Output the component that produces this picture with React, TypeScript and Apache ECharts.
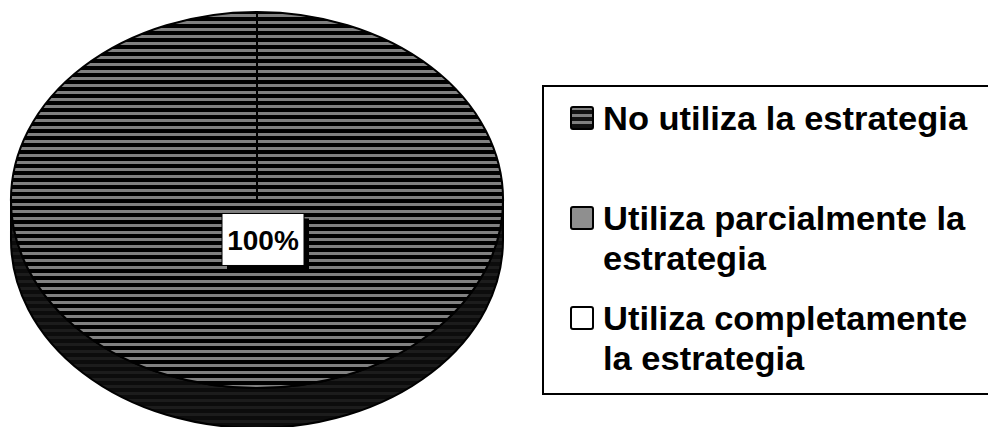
import { useEffect, useRef } from 'react';
import * as echarts from 'echarts';

const categories = [
  'No utiliza la estrategia',
  'Utiliza parcialmente la\nestrategia',
  'Utiliza completamente\nla estrategia',
];
const values = [100, 0, 0];

function stripeCanvas(on: number, off: number, c1: string, c2: string) {
  const c = document.createElement('canvas');
  c.width = 4;
  c.height = on + off;
  const ctx = c.getContext('2d')!;
  ctx.fillStyle = c2;
  ctx.fillRect(0, 0, c.width, c.height);
  ctx.fillStyle = c1;
  ctx.fillRect(0, 0, c.width, on);
  return c;
}

export default function App() {
  const ref = useRef<HTMLDivElement>(null);
  useEffect(() => {
    document.body.style.margin = '0';
    if (!ref.current) return;
    const chart = echarts.init(ref.current, undefined, { renderer: 'svg' });

    const topPattern = { image: stripeCanvas(3, 4, '#808080', '#000000'), repeat: 'repeat' };
    const sidePattern = { image: stripeCanvas(3, 4, '#1c1c1c', '#0c0c0c'), repeat: 'repeat' };
    const slicePatterns: any[] = [topPattern, '#8c8c8c', '#ffffff'];
    const sideFills: any[] = [sidePattern, '#444444', '#999999'];

    const cx = 257, cy = 200, rx = 246, ry = 188, depth = 40;
    const total = values.reduce((a, b) => a + b, 0);
    const cum: number[] = [];
    values.reduce((acc, v, i) => { cum[i] = acc; return acc + v; }, 0);
    const P = (t: number, dy = 0) => [cx + rx * Math.sin(t), cy - ry * Math.cos(t) + dy];
    const f = (p: number[]) => `${p[0].toFixed(2)} ${p[1].toFixed(2)}`;

    const font = "'Liberation Sans', Arial, sans-serif";

    const renderItem = (params: any, api: any) => {
      const i = params.dataIndex;
      const v = api.value(0) as number;
      if (!v || v <= 0) return null;
      const a0 = (cum[i] / total) * Math.PI * 2;
      const a1 = ((cum[i] + v) / total) * Math.PI * 2;
      const children: any[] = [];
      const s = Math.max(a0, Math.PI / 2);
      const e = Math.min(a1, Math.PI * 1.5);
      if (e > s) {
        const d = `M ${f(P(s))} L ${f(P(s, depth))} A ${rx} ${ry} 0 0 1 ${f(P(e, depth))} L ${f(P(e))} A ${rx} ${ry} 0 0 0 ${f(P(s))} Z`;
        children.push({
          type: 'path', z2: 1,
          shape: { pathData: d },
          style: { fill: sideFills[i], stroke: '#000', lineWidth: 2 },
        });
      }
      let d: string;
      if (a1 - a0 >= Math.PI * 2 - 1e-6) {
        d = `M ${f(P(a0))} A ${rx} ${ry} 0 1 1 ${f(P(a0 + Math.PI))} A ${rx} ${ry} 0 1 1 ${f(P(a0 + Math.PI * 2))} Z`;
      } else {
        const large = a1 - a0 > Math.PI ? 1 : 0;
        d = `M ${cx} ${cy} L ${f(P(a0))} A ${rx} ${ry} 0 ${large} 1 ${f(P(a1))} Z`;
      }
      children.push({
        type: 'path', z2: 2,
        shape: { pathData: d },
        style: { fill: slicePatterns[i], stroke: '#000', lineWidth: 2 },
      });
      const st = P(a0);
      children.push({
        type: 'line', z2: 3,
        shape: { x1: cx, y1: cy, x2: st[0], y2: st[1] },
        style: { stroke: '#000', lineWidth: 2 },
      });
      const mid = (a0 + a1) / 2;
      const lp = [cx + rx * 0.21 * Math.sin(mid) + 6, cy - ry * 0.21 * Math.cos(mid)];
      const bw = 82, bh = 52;
      children.push({
        type: 'rect', z2: 10,
        shape: { x: lp[0] - bw / 2 + 5, y: lp[1] - bh / 2 + 5, width: bw, height: bh },
        style: { fill: '#000' },
      });
      children.push({
        type: 'rect', z2: 11,
        shape: { x: lp[0] - bw / 2, y: lp[1] - bh / 2, width: bw, height: bh },
        style: { fill: '#fff', stroke: '#000', lineWidth: 1 },
      });
      children.push({
        type: 'text', z2: 12,
        x: lp[0], y: lp[1] + 1,
        style: {
          text: Math.round((v / total) * 100) + '%',
          fill: '#000', font: `bold 28px ${font}`,
          align: 'center', verticalAlign: 'middle',
        },
      });
      return { type: 'group', children };
    };

    const legendIconFills: any[] = [
      { image: stripeCanvas(3, 4, '#808080', '#111111'), repeat: 'repeat' },
      '#8f8f8f',
      '#ffffff',
    ];
    const rowCenters = [118, 218, 318];
    const legendGraphics: any[] = [
      {
        type: 'rect', left: 542, top: 85,
        shape: { x: 0, y: 0, width: 470, height: 308 },
        style: { fill: '#fff', stroke: '#000', lineWidth: 2 },
      },
    ];
    categories.forEach((name, i) => {
      const yc = rowCenters[i];
      legendGraphics.push({
        type: 'rect', x: 571, y: yc - 11,
        shape: { x: 0, y: 0, width: 22, height: 22, r: 2 },
        style: { fill: legendIconFills[i], stroke: '#000', lineWidth: 2 },
        z: 10,
      });
      legendGraphics.push({
        type: 'text', x: 603, y: yc - 20,
        scaleX: 1.045,
        style: {
          text: name, fill: '#000',
          font: `bold 33px ${font}`, lineHeight: 40,
          verticalAlign: 'top', align: 'left',
        },
        z: 10,
      });
    });

    chart.setOption({
      animation: false,
      backgroundColor: '#fff',
      graphic: legendGraphics,
      series: [
        {
          type: 'custom',
          coordinateSystem: 'none',
          silent: true,
          data: values.map((v, i) => ({ name: categories[i].replace('\n', ' '), value: v })),
          renderItem,
        },
      ],
    });
    return () => chart.dispose();
  }, []);
  return <div ref={ref} style={{ width: 988, height: 427 }} />;
}
